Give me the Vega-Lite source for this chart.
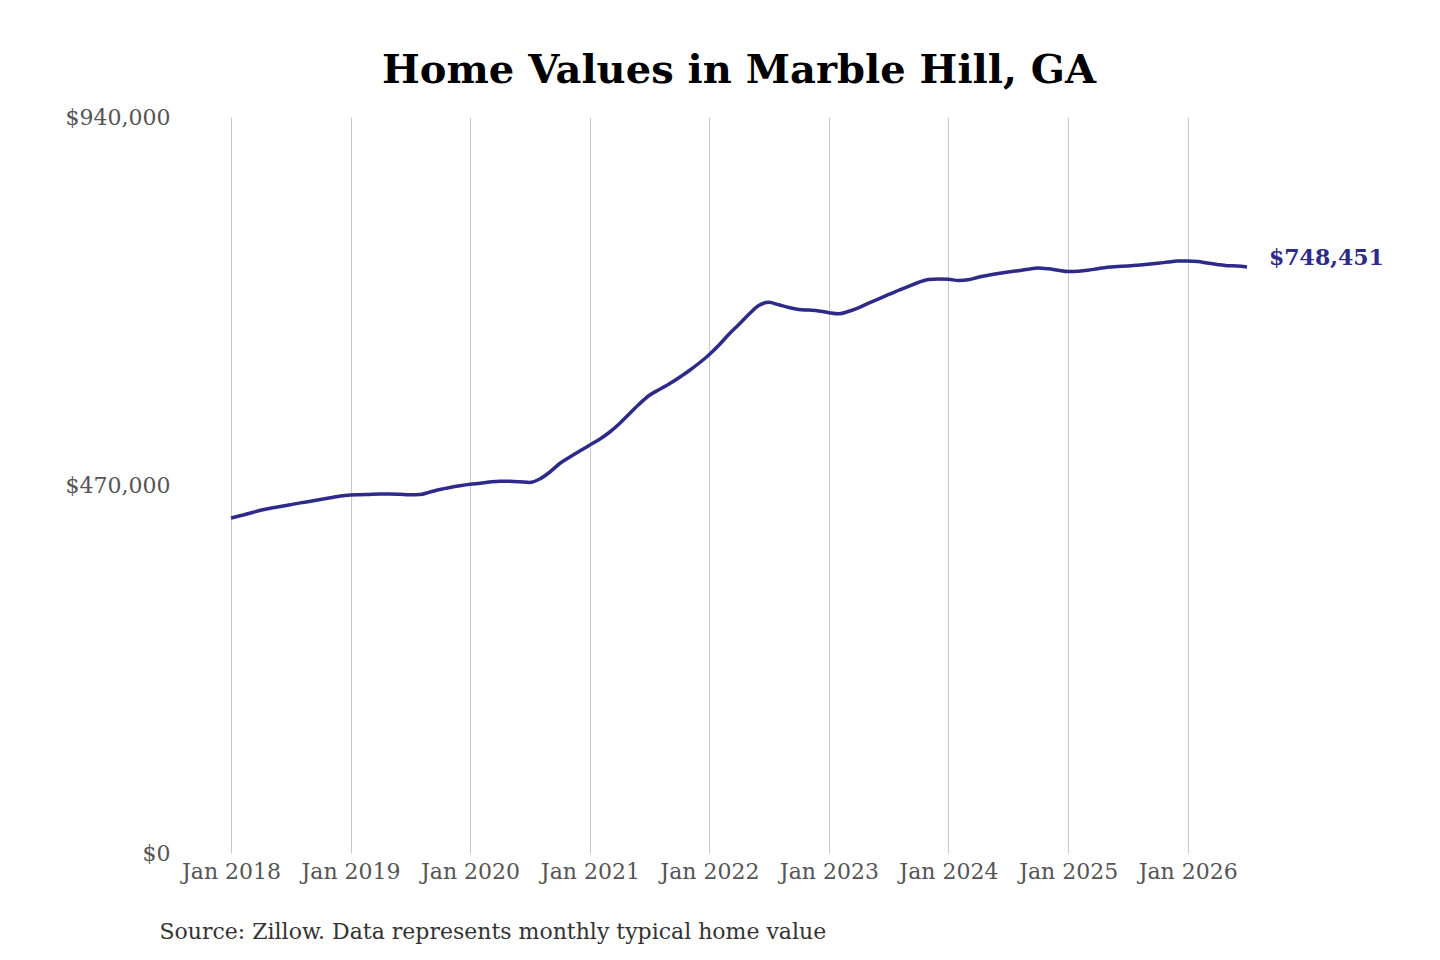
{
  "$schema": "https://vega.github.io/schema/vega-lite/v6.json",
  "width": 1016,
  "height": 736,
  "autosize": {"type": "none"},
  "padding": {"left": 231, "top": 117, "right": 193, "bottom": 107},
  "background": "white",
  "title": {
    "text": "Home Values in Marble Hill, GA",
    "font": "DejaVu Serif",
    "fontSize": 40,
    "fontWeight": "bold",
    "color": "#000000",
    "anchor": "middle",
    "offset": 15
  },
  "config": {
    "view": {"stroke": null},
    "font": "DejaVu Serif"
  },
  "data": {
    "values": [
      {"date": "2018/01/01", "value": 427850},
      {"date": "2018/02/01", "value": 431050},
      {"date": "2018/03/01", "value": 434240},
      {"date": "2018/04/01", "value": 437690},
      {"date": "2018/05/01", "value": 440370},
      {"date": "2018/06/01", "value": 442540},
      {"date": "2018/07/01", "value": 444840},
      {"date": "2018/08/01", "value": 447140},
      {"date": "2018/09/01", "value": 449310},
      {"date": "2018/10/01", "value": 451480},
      {"date": "2018/11/01", "value": 453650},
      {"date": "2018/12/01", "value": 455950},
      {"date": "2019/01/01", "value": 457230},
      {"date": "2019/02/01", "value": 457610},
      {"date": "2019/03/01", "value": 458000},
      {"date": "2019/04/01", "value": 458380},
      {"date": "2019/05/01", "value": 458510},
      {"date": "2019/06/01", "value": 458120},
      {"date": "2019/07/01", "value": 457610},
      {"date": "2019/08/01", "value": 457870},
      {"date": "2019/09/01", "value": 461000},
      {"date": "2019/10/01", "value": 464200},
      {"date": "2019/11/01", "value": 466800},
      {"date": "2019/12/01", "value": 468960},
      {"date": "2020/01/01", "value": 470880},
      {"date": "2020/02/01", "value": 472290},
      {"date": "2020/03/01", "value": 473830},
      {"date": "2020/04/01", "value": 474850},
      {"date": "2020/05/01", "value": 474720},
      {"date": "2020/06/01", "value": 474080},
      {"date": "2020/07/01", "value": 473190},
      {"date": "2020/08/01", "value": 477660},
      {"date": "2020/09/01", "value": 486600},
      {"date": "2020/10/01", "value": 497460},
      {"date": "2020/11/01", "value": 505760},
      {"date": "2020/12/01", "value": 513420},
      {"date": "2021/01/01", "value": 521080},
      {"date": "2021/02/01", "value": 528750},
      {"date": "2021/03/01", "value": 537050},
      {"date": "2021/04/01", "value": 548160},
      {"date": "2021/05/01", "value": 560680},
      {"date": "2021/06/01", "value": 573450},
      {"date": "2021/07/01", "value": 584300},
      {"date": "2021/08/01", "value": 591970},
      {"date": "2021/09/01", "value": 599250},
      {"date": "2021/10/01", "value": 607290},
      {"date": "2021/11/01", "value": 616230},
      {"date": "2021/12/01", "value": 625810},
      {"date": "2022/01/01", "value": 636670},
      {"date": "2022/02/01", "value": 649440},
      {"date": "2022/03/01", "value": 662210},
      {"date": "2022/04/01", "value": 674980},
      {"date": "2022/05/01", "value": 687760},
      {"date": "2022/06/01", "value": 699250},
      {"date": "2022/07/01", "value": 703340},
      {"date": "2022/08/01", "value": 700150},
      {"date": "2022/09/01", "value": 696700},
      {"date": "2022/10/01", "value": 694270},
      {"date": "2022/11/01", "value": 693380},
      {"date": "2022/12/01", "value": 692360},
      {"date": "2023/01/01", "value": 690060},
      {"date": "2023/02/01", "value": 688650},
      {"date": "2023/03/01", "value": 691590},
      {"date": "2023/04/01", "value": 696310},
      {"date": "2023/05/01", "value": 702060},
      {"date": "2023/06/01", "value": 707430},
      {"date": "2023/07/01", "value": 713040},
      {"date": "2023/08/01", "value": 718410},
      {"date": "2023/09/01", "value": 723770},
      {"date": "2023/10/01", "value": 728620},
      {"date": "2023/11/01", "value": 732450},
      {"date": "2023/12/01", "value": 733100},
      {"date": "2024/01/01", "value": 732700},
      {"date": "2024/02/01", "value": 731180},
      {"date": "2024/03/01", "value": 732070},
      {"date": "2024/04/01", "value": 735390},
      {"date": "2024/05/01", "value": 737810},
      {"date": "2024/06/01", "value": 740110},
      {"date": "2024/07/01", "value": 742030},
      {"date": "2024/08/01", "value": 743690},
      {"date": "2024/09/01", "value": 745610},
      {"date": "2024/10/01", "value": 747140},
      {"date": "2024/11/01", "value": 746120},
      {"date": "2024/12/01", "value": 744330},
      {"date": "2025/01/01", "value": 742540},
      {"date": "2025/02/01", "value": 743050},
      {"date": "2025/03/01", "value": 744200},
      {"date": "2025/04/01", "value": 746250},
      {"date": "2025/05/01", "value": 748030},
      {"date": "2025/06/01", "value": 748930},
      {"date": "2025/07/01", "value": 749700},
      {"date": "2025/08/01", "value": 750720},
      {"date": "2025/09/01", "value": 751870},
      {"date": "2025/10/01", "value": 753150},
      {"date": "2025/11/01", "value": 754680},
      {"date": "2025/12/01", "value": 756080},
      {"date": "2026/01/01", "value": 756080},
      {"date": "2026/02/01", "value": 755440},
      {"date": "2026/03/01", "value": 753530},
      {"date": "2026/04/01", "value": 751610},
      {"date": "2026/05/01", "value": 750080},
      {"date": "2026/06/01", "value": 749700},
      {"date": "2026/07/01", "value": 748451}
    ]
  },
  "encoding": {
    "x": {
      "field": "date",
      "type": "temporal",
      "scale": {"nice": false},
      "axis": {
        "tickCount": {"interval": "year", "step": 1},
        "format": "%b %Y",
        "labelOverlap": false,
        "labelFlush": false,
        "grid": true,
        "gridColor": "#c8c8c8",
        "gridWidth": 1,
        "domain": false,
        "ticks": false,
        "labelPadding": 8,
        "labelFont": "DejaVu Serif",
        "labelFontSize": 22,
        "labelColor": "#555555",
        "title": "Source: Zillow. Data represents monthly typical home value",
        "titleFont": "DejaVu Serif",
        "titleFontSize": 22,
        "titleFontWeight": "normal",
        "titleColor": "#333333",
        "titleAlign": "left",
        "titleBaseline": "middle",
        "titleX": -72,
        "titleY": 78
      }
    },
    "y": {
      "field": "value",
      "type": "quantitative",
      "scale": {"domain": [0, 940000], "nice": false, "zero": true},
      "axis": {
        "values": [0, 470000, 940000],
        "format": "$,.0f",
        "labelOverlap": false,
        "labelFlush": false,
        "grid": false,
        "domain": false,
        "ticks": false,
        "labelPadding": 61,
        "labelFont": "DejaVu Serif",
        "labelFontSize": 22,
        "labelColor": "#555555",
        "title": null
      }
    }
  },
  "layer": [
    {
      "mark": {"type": "line", "color": "#2d2a8a", "strokeWidth": 3.5, "interpolate": "monotone"}
    },
    {
      "transform": [{"filter": "datum.value === 748451"}],
      "mark": {"type": "text", "align": "left", "baseline": "middle", "dx": 22, "dy": -9, "font": "DejaVu Serif", "fontSize": 22, "fontWeight": "bold", "color": "#2d2a8a"},
      "encoding": {
        "text": {"field": "value", "type": "quantitative", "format": "$,.0f"}
      }
    }
  ]
}
